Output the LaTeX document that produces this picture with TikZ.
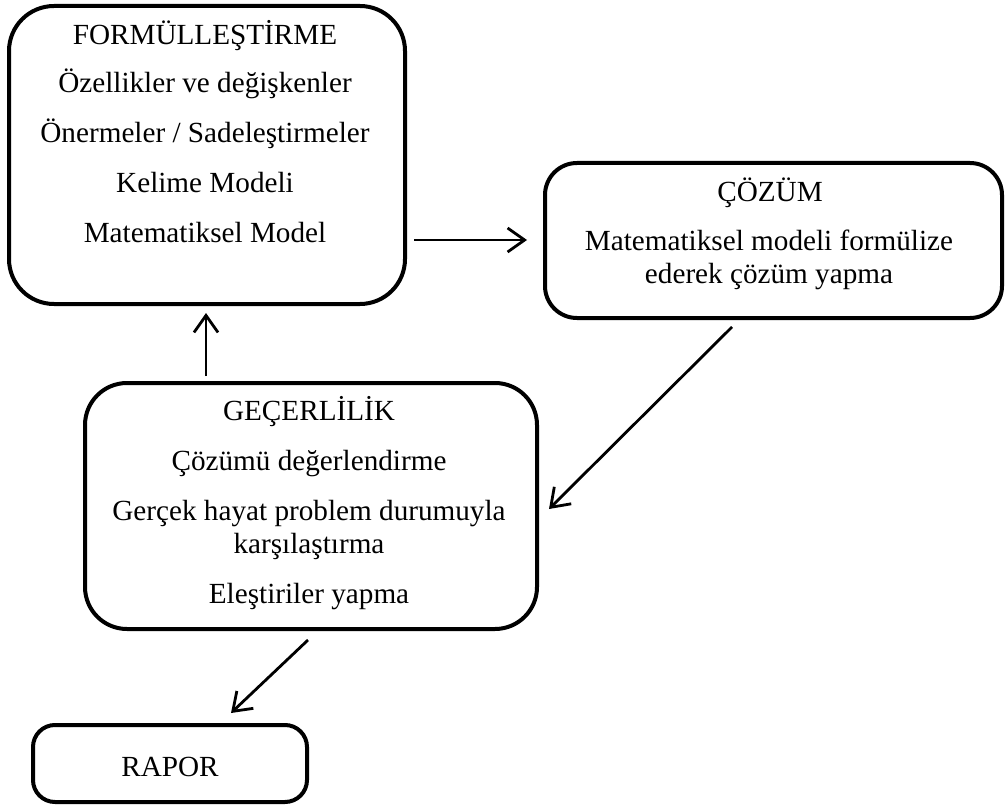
\documentclass[tikz,border=0pt]{standalone}
\usepackage{fontspec}
\setmainfont{Liberation Serif}
\usetikzlibrary{arrows.meta}
\begin{document}
\begin{tikzpicture}[x=1pt,y=-1pt,
  box/.style={draw, line width=4pt, rounded corners=#1, inner sep=0pt},
  txt/.style={anchor=base, inner sep=0pt, font=\fontsize{29.2}{35}\selectfont},
  flow/.style={line width=2.8pt, -{Straight Barb[length=17pt,width=24pt,line width=2.8pt]}}]
\useasboundingbox (0,0) rectangle (1006,805);

% boxes
\node[box=45pt, minimum width=396pt, minimum height=298pt] (form) at (207,155) {};
\node[box=32pt, minimum width=457pt, minimum height=155pt] (coz) at (773.5,240.5) {};
\node[box=42pt, minimum width=452pt, minimum height=246pt] (gec) at (311,506) {};
\node[box=22pt, minimum width=274pt, minimum height=77pt] (rap) at (170,763.5) {};

% formulation
\node[txt] (f1) at (205,45) {FORMÜLLEŞTİRME};
\node[txt] (f2) at (205,93) {Özellikler ve değişkenler};
\node[txt] (f3) at (205,143) {Önermeler / Sadeleştirmeler};
\node[txt] (f4) at (205,193) {Kelime Modeli};
\node[txt] (f5) at (205,242) {Matematiksel Model};

% solution
\node[txt] (c1) at (770,201) {ÇÖZÜM};
\node[txt] (c2) at (769,250) {Matematiksel modeli formülize};
\node[txt] (c3) at (769,283) {ederek çözüm yapma};

% validation
\node[txt] (g1) at (309,420) {GEÇERLİLİK};
\node[txt] (g2) at (309,470) {Çözümü değerlendirme};
\node[txt] (g3) at (309,520) {Gerçek hayat problem durumuyla};
\node[txt] (g4) at (309,553) {karşılaştırma};
\node[txt] (g5) at (309,603) {Eleştiriler yapma};

% report
\node[txt] (r1) at (170,776) {RAPOR};

% connector ends
\coordinate (a1s) at (414,240);
\coordinate (a1e) at (527,240);
\coordinate (a2s) at (206,376);
\coordinate (a2e) at (206,313);
\coordinate (a3s) at (732,327);
\coordinate (a3e) at (549,509);
\coordinate (a4s) at (308,640);
\coordinate (a4e) at (231,713);

\draw[flow] (a1s) -- (a1e);
\draw[flow] (a2s) -- (a2e);
\draw[flow] (a3s) -- (a3e);
\draw[flow] (a4s) -- (a4e);
\end{tikzpicture}
\end{document}
